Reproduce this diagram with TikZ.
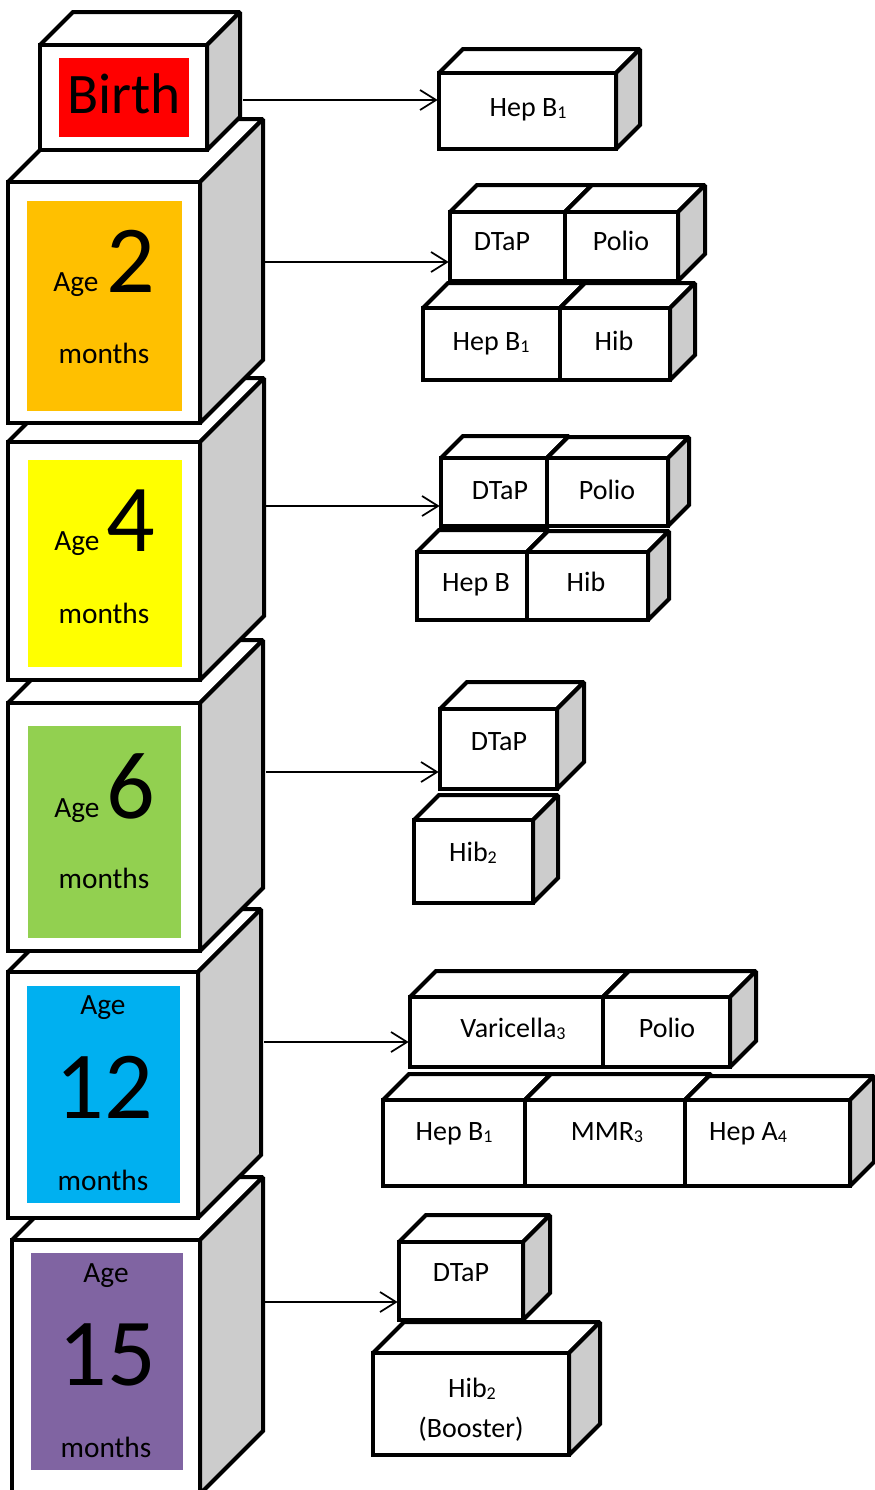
\documentclass[tikz,border=0pt]{standalone}
\usepackage{fontspec}
\setmainfont{Carlito}
\usetikzlibrary{arrows.meta}
\definecolor{sidegray}{HTML}{CCCCCC}
\definecolor{cBirth}{HTML}{FF0000}
\definecolor{cTwo}{HTML}{FFC000}
\definecolor{cFour}{HTML}{FFFF00}
\definecolor{cSix}{HTML}{92D050}
\definecolor{cTwelve}{HTML}{00B0F0}
\definecolor{cFifteen}{HTML}{8064A2}
\newcommand\sbs[1]{\raisebox{-1.6pt}{\fontsize{13.5}{13.5}\selectfont #1}}
% block: name, x1, y1, x2, y2, depth  (pixel units, y downward)
\newcommand\blk[6]{%
  \draw[face] (#2,#3) -- (#2+#6,#3-#6) -- (#4+#6,#3-#6) -- (#4,#3) -- cycle;
  \draw[side] (#4,#3) -- (#4+#6,#3-#6) -- (#4+#6,#5-#6) -- (#4,#5) -- cycle;
  \node[front, minimum width={(#4-#2)*0.75pt}, minimum height={(#5-#3)*0.75pt}] (#1) at ({(#2+#4)/2},{(#3+#5)/2}) {};
}
% coloured panel: name, x1, y1, x2, y2, colour
\newcommand\pnl[6]{%
  \node[panel, fill=#6, minimum width={(#4-#2)*0.75pt}, minimum height={(#5-#3)*0.75pt}] (#1) at ({(#2+#4)/2},{(#3+#5)/2}) {};
}
\tikzset{
  face/.style={draw=black, line width=3pt, fill=white, line join=miter, miter limit=2},
  side/.style={draw=black, line width=3pt, fill=sidegray, line join=miter, miter limit=2},
  front/.style={draw=black, line width=3pt, fill=white, rectangle, inner sep=0pt, outer sep=0pt},
  panel/.style={rectangle, draw=none, inner sep=0pt, outer sep=0pt},
  arr/.style={line width=1.3pt, shorten >=1pt, -{Straight Barb[length=12pt, width=15pt, line width=1.3pt]}},
  lab/.style={anchor=base, inner sep=0pt, font=\fontsize{21}{25}\selectfont},
  agelab/.style={inner sep=0pt, font=\fontsize{22}{26}\selectfont},
  bignum/.style={inner sep=0pt, font=\fontsize{72}{80}\selectfont},
}
\begin{document}
\begin{tikzpicture}[x=0.75pt, y=-0.75pt]
\useasboundingbox (0,0) rectangle (875,1490);
\fill[white] (0,0) rectangle (875,1490);

% ---- Age 15
\blk{a15}{12}{1240}{200}{1494}{63}
\pnl{p15}{31}{1253}{183}{1470}{cFifteen}
\node[agelab, anchor=base] (a15age) at (106,1282) {Age};
\node[bignum, anchor=base] (a15num) at (107,1385) {15};
\node[agelab, anchor=base] (a15mo) at (106,1457) {months};

% ---- Age 12
\blk{a12}{8}{972}{198}{1218}{63}
\pnl{p12}{27}{986}{180}{1203}{cTwelve}
\node[agelab, anchor=base] (a12age) at (103,1014) {Age};
\node[bignum, anchor=base] (a12num) at (104,1118) {12};
\node[agelab, anchor=base] (a12mo) at (103,1190) {months};

% ---- Age 6
\blk{a6}{8}{703}{200}{951}{63}
\pnl{p6}{28}{726}{181}{938}{cSix}
\node[agelab, anchor=base west] (a6age) at (54,817) {Age};
\node[bignum, anchor=base west] (a6num) at (106,818) {6};
\node[agelab, anchor=base] (a6mo) at (104,888) {months};

% ---- Age 4
\blk{a4}{8}{442}{200}{680}{64}
\pnl{p4}{28}{460}{182}{667}{cFour}
\node[agelab, anchor=base west] (a4age) at (54,550) {Age};
\node[bignum, anchor=base west] (a4num) at (106,551) {4};
\node[agelab, anchor=base] (a4mo) at (104,623) {months};

% ---- Age 2
\blk{a2}{8}{182}{200}{423}{63}
\pnl{p2}{27}{201}{182}{411}{cTwo}
\node[agelab, anchor=base west] (a2age) at (53,291) {Age};
\node[bignum, anchor=base west] (a2num) at (106,292) {2};
\node[agelab, anchor=base] (a2mo) at (104,363) {months};

% ---- Birth
\blk{b0}{40}{45}{207}{150}{33}
\pnl{p0}{59}{58}{189}{137}{cBirth}
\node[inner sep=0pt, anchor=base, font=\fontsize{43}{50}\selectfont] (b0txt) at (124,113) {Birth};

% ---- vaccines at birth
\blk{v0}{439}{73}{616}{149}{24}
\node[lab] (v0t) at (528,116) {Hep B\sbs{1}};

% ---- vaccines at 2 months
\blk{v2a}{450}{212}{565}{281}{27}
\blk{v2b}{565}{212}{678}{281}{27}
\blk{v2c}{423}{308}{560}{380}{25}
\blk{v2d}{560}{308}{670}{380}{25}
\node[lab] (v2at) at (502,250) {DTaP};
\node[lab] (v2bt) at (621,250) {Polio};
\node[lab] (v2ct) at (491,350) {Hep B\sbs{1}};
\node[lab] (v2dt) at (614,350) {Hib};

% ---- vaccines at 4 months
\blk{v4a}{441}{458}{547}{526}{22}
\blk{v4b}{547}{458}{668}{526}{21}
\blk{v4c}{417}{552}{527}{620}{22}
\blk{v4d}{527}{552}{648}{620}{21}
\node[lab] (v4at) at (500,499) {DTaP};
\node[lab] (v4bt) at (607,499) {Polio};
\node[lab] (v4ct) at (476,591) {Hep B};
\node[lab] (v4dt) at (586,591) {Hib};

% ---- vaccines at 6 months
\blk{v6a}{440}{709}{557}{789}{27}
\blk{v6b}{414}{820}{533}{903}{25}
\node[lab] (v6at) at (499,750) {DTaP};
\node[lab] (v6bt) at (473,861) {Hib\sbs{2}};

% ---- vaccines at 12 months
\blk{v12a}{410}{997}{603}{1067}{26}
\blk{v12b}{603}{997}{730}{1067}{26}
\blk{v12c}{383}{1100}{525}{1186}{26}
\blk{v12d}{525}{1100}{685}{1186}{26}
\blk{v12e}{685}{1100}{850}{1186}{24}
\node[lab] (v12at) at (513,1037) {Varicella\sbs{3}};
\node[lab] (v12bt) at (667,1037) {Polio};
\node[lab] (v12ct) at (454,1140) {Hep B\sbs{1}};
\node[lab] (v12dt) at (607,1140) {MMR\sbs{3}};
\node[lab] (v12et) at (748,1140) {Hep A\sbs{4}};

% ---- vaccines at 15 months
\blk{v15a}{399}{1242}{523}{1320}{27}
\blk{v15b}{373}{1353}{569}{1455}{31}
\node[lab] (v15at) at (461,1281) {DTaP};
\node[lab] (v15bt) at (472,1397) {Hib\sbs{2}};
\node[lab] (v15bt2) at (471,1437) {(Booster)};

% ---- connectors
\coordinate (r0) at (243,100);
\coordinate (r2) at (265,262);
\coordinate (r4) at (265,506);
\coordinate (r6) at (266,772);
\coordinate (r12) at (264,1042);
\coordinate (r15) at (265,1302);
\draw[arr] (r0) -- (r0 -| v0.west);
\draw[arr] (r2) -- (r2 -| v2a.west);
\draw[arr] (r4) -- (r4 -| v4a.west);
\draw[arr] (r6) -- (r6 -| v6a.west);
\draw[arr] (r12) -- (r12 -| v12a.west);
\draw[arr] (r15) -- (r15 -| v15a.west);
\end{tikzpicture}
\end{document}
